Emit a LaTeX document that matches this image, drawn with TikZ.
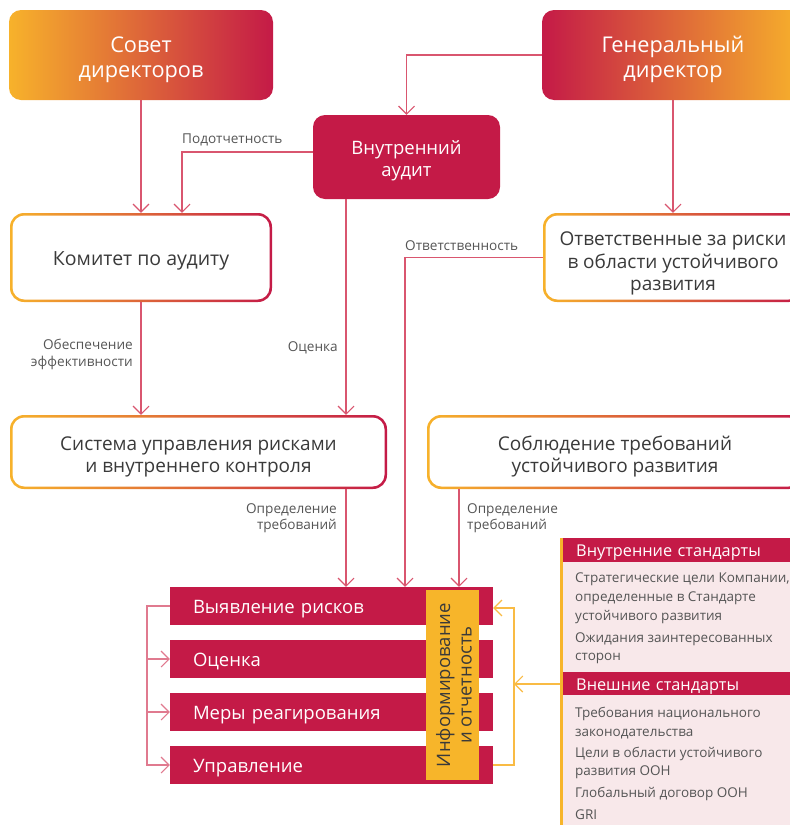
\documentclass[tikz,border=0pt]{standalone}
\usepackage{fontspec}
\setmainfont{Open Sans}
\usetikzlibrary{arrows.meta,calc}
\definecolor{crim}{HTML}{C41A47}
\definecolor{orng}{HTML}{F7B22B}
\definecolor{cnc}{HTML}{D9566F}
\definecolor{cnlc}{HTML}{E07A8F}
\definecolor{ylw}{HTML}{F7B52A}
\definecolor{ylwln}{HTML}{F9BB44}
\definecolor{panelbg}{HTML}{F8E8EA}
\definecolor{txt}{HTML}{3A3A3A}
\definecolor{lbl}{HTML}{555555}
\newcommand{\fs}[2]{\fontsize{#1}{#2}\selectfont}
\newcommand{\hup}[1]{\rule{0pt}{#1pt}}
\newcommand{\hdn}[1]{\rule[-#1pt]{0pt}{#1pt}}
\begin{document}
\begin{tikzpicture}[x=1pt,y=-1pt,
  arr/.style={-{Straight Barb[length=8pt,width=16pt,line width=1.1pt]}},
  cn/.style={draw=cnc,line width=1.1pt,arr},
  cnl/.style={draw=cnlc,line width=1.1pt,arr},
  yl/.style={draw=ylwln,line width=1.1pt,arr},
  topbox/.style={rounded corners=12pt,minimum height=90pt,text=white,align=center,font=\fs{21.7}{25}},
  gbox/.style={rounded corners=14pt,left color=orng,right color=crim,inner sep=0pt,text=txt,align=center,
    path picture={\fill[white,rounded corners=12pt]
      ([shift={(2.5pt,-2.5pt)}]path picture bounding box.north west) rectangle
      ([shift={(-2.5pt,2.5pt)}]path picture bounding box.south east);}},
  barbox/.style={fill=crim,minimum height=38pt,text width=277pt,inner xsep=23pt,inner ysep=0pt,
    align=left,text=white,font=\fs{18.5}{22},text height=20pt,text depth=6pt},
  lab/.style={text=lbl,font=\fs{13.6}{16.5},inner sep=0pt},
  hdr/.style={fill=crim,text=white,text width=211pt,inner xsep=13pt,inner ysep=0pt,align=left,font=\fs{16.3}{18},text depth=5pt},
  item/.style={text=lbl,font=\fs{13.5}{16},inner sep=0pt,anchor=base west}
]
\useasboundingbox (0,0) rectangle (790,825);
\clip (0,0) rectangle (790,825);

% top boxes
\node[topbox,left color=orng,right color=crim,minimum width=264pt] (sovet) at (141,55) {\hup{25}Совет\\директоров\hdn{6}};
\node[topbox,left color=crim,right color=orng,minimum width=262pt] (gendir) at (673,55) {\hup{25}Генеральный\\директор\hdn{6}};
\node[fill=crim,rounded corners=12pt,minimum width=187pt,minimum height=84pt,text=white,align=center,font=\fs{18.5}{22}] (audit) at (406.5,157) {\hup{22}Внутренний\\аудит\hdn{6}};

% gradient-border boxes
\node[gbox,minimum width=262pt,minimum height=89pt,font=\fs{19.5}{23},text height=22pt,text depth=6pt] (komitet) at (141,257.5) {Комитет по аудиту};
\node[gbox,minimum width=260pt,minimum height=89pt,font=\fs{19}{22.5}] (otv) at (673,257.5) {\hup{27}Ответственные за риски\\в области устойчивого\\развития\hdn{6}};
\node[gbox,minimum width=377pt,minimum height=74pt,font=\fs{19}{22.5}] (sistema) at (198.5,452) {\hup{24.5}Система управления рисками\\и внутреннего контроля\hdn{6}};
\node[gbox,minimum width=376pt,minimum height=74pt,font=\fs{19}{22.5}] (soblyud) at (615,452) {\hup{24.5}Соблюдение требований\\устойчивого развития\hdn{6}};

% bars
\node[barbox] (bar1) at (331.5,606) {Выявление рисков};
\node[barbox] (bar2) at (331.5,659) {Оценка};
\node[barbox] (bar3) at (331.5,712) {Меры реагирования};
\node[barbox] (bar4) at (331.5,765) {Управление};
\node[fill=ylw,rotate=90,minimum width=190pt,minimum height=53pt,inner sep=0pt,text=txt,align=center,font=\fs{18.5}{21.5}] (info) at (452.5,685) {\hup{22.5}Информирование\\и отчетность\hdn{6}};

% panel
\node[fill=panelbg,anchor=north west,minimum width=240pt,minimum height=295pt,inner sep=0pt] (panel) at (560,538) {};
\fill[ylw] (panel.north west) rectangle ([xshift=3pt]panel.south west);
\node[hdr,anchor=north west,minimum height=24pt,text height=17pt] (hdr1) at (563,538) {Внутренние стандарты};
\node[hdr,anchor=north west,minimum height=21pt,text height=18pt] (hdr2) at (563,672) {Внешние стандарты};
\node[item] (i1a) at (575,582) {Стратегические цели Компании,};
\node[item] (i1b) at (575,601) {определенные в Стандарте};
\node[item] (i1c) at (575,620) {устойчивого развития};
\node[item] (i2a) at (575,642) {Ожидания заинтересованных};
\node[item] (i2b) at (575,660) {сторон};
\node[item] (i3a) at (575,717) {Требования национального};
\node[item] (i3b) at (575,736) {законодательства};
\node[item] (i4a) at (575,757) {Цели в области устойчивого};
\node[item] (i4b) at (575,775) {развития ООН};
\node[item] (i5) at (575,797) {Глобальный договор ООН};
\node[item] (i6) at (575,819) {GRI};

% connectors
\draw[cn] (sovet.south) -- (komitet.north);
\draw[cn] ([yshift=5pt]audit.west) -| ([xshift=41pt]komitet.north);
\draw[cn] (gendir.west) -| (audit.north);
\draw[cn] (gendir.south) -- (otv.north);
\draw[cn] ([xshift=-60.5pt]audit.south) -- ([xshift=-60.5pt]audit.south |- sistema.north);
\draw[cn] (komitet.south) -- (komitet.south |- sistema.north);
\draw[cn] (otv.west) -| ([xshift=73.5pt]bar1.north);
\draw[cn] ([xshift=147.5pt]sistema.south) -- ([xshift=147.5pt]sistema.south |- bar1.north);
\draw[cn] ([xshift=-156pt]soblyud.south) -- ([xshift=-156pt]soblyud.south |- bar1.north);

\coordinate (lb) at (147,765);
\draw[cnl] (bar1.west) -| (lb) -- (bar4.west);
\draw[cnl] (bar2.west -| lb) -- (bar2.west);
\draw[cnl] (bar3.west -| lb) -- (bar3.west);

\coordinate (rb) at (514,608);
\draw[yl] (bar4.east) -| (rb) -- (bar1.east |- rb);
\draw[yl] ([yshift=-146pt]panel.north west) -- ([yshift=-146pt]panel.north west -| rb);

% labels
\node[lab,anchor=base west] (lpod) at (182,143) {Подотчетность};
\node[lab,anchor=base west] (lotv) at (405,250) {Ответственность};
\node[lab,anchor=base east] (locen) at (338,351) {Оценка};
\node[lab,anchor=east,align=right] (lobes) at (133,354.5) {Обеспечение\\эффективности};
\node[lab,anchor=east,align=right] (lopr1) at (337,518) {Определение\\требований};
\node[lab,anchor=west,align=left] (lopr2) at (467,518) {Определение\\требований};
\end{tikzpicture}
\end{document}
